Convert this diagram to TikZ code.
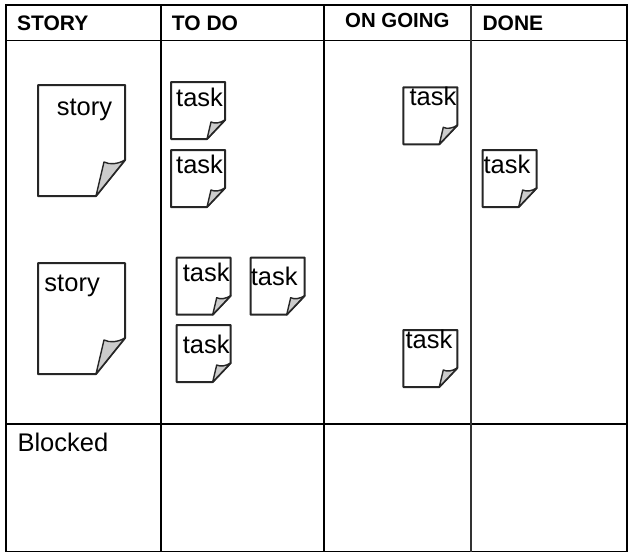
\documentclass[tikz,border=0pt]{standalone}
\usepackage{fontspec}
\setmainfont{Liberation Sans}
\usepackage{tikz}

\begin{document}
\begin{tikzpicture}[x=1pt, y=-1pt,
    borde/.style={line width=1.4pt, black},
    nota/.style={draw=black!85, line width=2pt, fill=white, line join=round},
    pliegue/.style={draw=black!85, line width=1.4pt, fill=black!20, line join=round},
    titulo/.style={anchor=base west, inner sep=0pt, font=\bfseries\fontsize{21}{24}\selectfont},
    texto/.style={anchor=base west, inner sep=0pt, font=\fontsize{25.5}{30}\selectfont},
    tarea/.pic={
        \draw[nota] (0,0) -- (54,0) -- (54,38) -- (36,57) -- (0,57) -- cycle;
        \draw[pliegue] (36,57) -- (40,40) .. controls (44,42) and (49,41) .. (54,38) -- cycle;
    },
    historia/.pic={
        \draw[nota] (0,0) -- (87,0) -- (87,75) -- (58,111) -- (0,111) -- cycle;
        \draw[pliegue] (58,111) -- (66,77) .. controls (72,80) and (80,79) .. (87,75) -- cycle;
    }]
    \useasboundingbox (0,0) rectangle (630,554);

    % Tablero
    \draw[borde] (6,5) rectangle (627,551.5);
    \draw[borde] (6,40.5) -- (627,40.5);
    \draw[borde] (6,424) -- (627,424);
    \draw[borde] (161,5) -- (161,551.5);
    \draw[borde] (324,5) -- (324,551.5);
    \draw[borde, line width=2pt, black!80] (471,5) -- (471,551.5);

    % Columnas
    \node[titulo] (colStory) at (17,30.7) {STORY};
    \node[titulo] (colTodo) at (171.7,30.7) {TO DO};
    \node[titulo, font=\bfseries\fontsize{20.4}{24}\selectfont] (colGoing) at (345,27.3) {ON GOING};
    \node[titulo] (colDone) at (482.3,30.7) {DONE};
    \node[texto] (bloq) at (17.3,451.7) {Blocked};

    % Historias
    \pic (h1) at (38,85) {historia};
    \node[texto] (h1txt) at (56.7,115) {story};
    \pic (h2) at (38,263) {historia};
    \node[texto] (h2txt) at (44.3,291.7) {story};

    % Tareas por hacer
    \pic (t1) at (171,82) {tarea};
    \node[texto] (t1txt) at (176,106) {task};
    \pic (t2) at (171,150) {tarea};
    \node[texto] (t2txt) at (176,173.3) {task};
    \pic (t3) at (176.7,257.7) {tarea};
    \node[texto] (t3txt) at (182.7,281.7) {task};
    \pic (t4) at (250.7,257.7) {tarea};
    \node[texto] (t4txt) at (250.7,285.7) {task};
    \pic (t5) at (176.7,325) {tarea};
    \node[texto] (t5txt) at (182.7,353.3) {task};

    % En curso
    \pic (g1) at (403.3,87.3) {tarea};
    \node[texto] (g1txt) at (409.3,105) {task};
    \pic (g2) at (403.3,330) {tarea};
    \node[texto] (g2txt) at (405.3,348.3) {task};

    % Hechas
    \pic (d1) at (482.7,150) {tarea};
    \node[texto] (d1txt) at (483.3,173) {task};
\end{tikzpicture}
\end{document}
